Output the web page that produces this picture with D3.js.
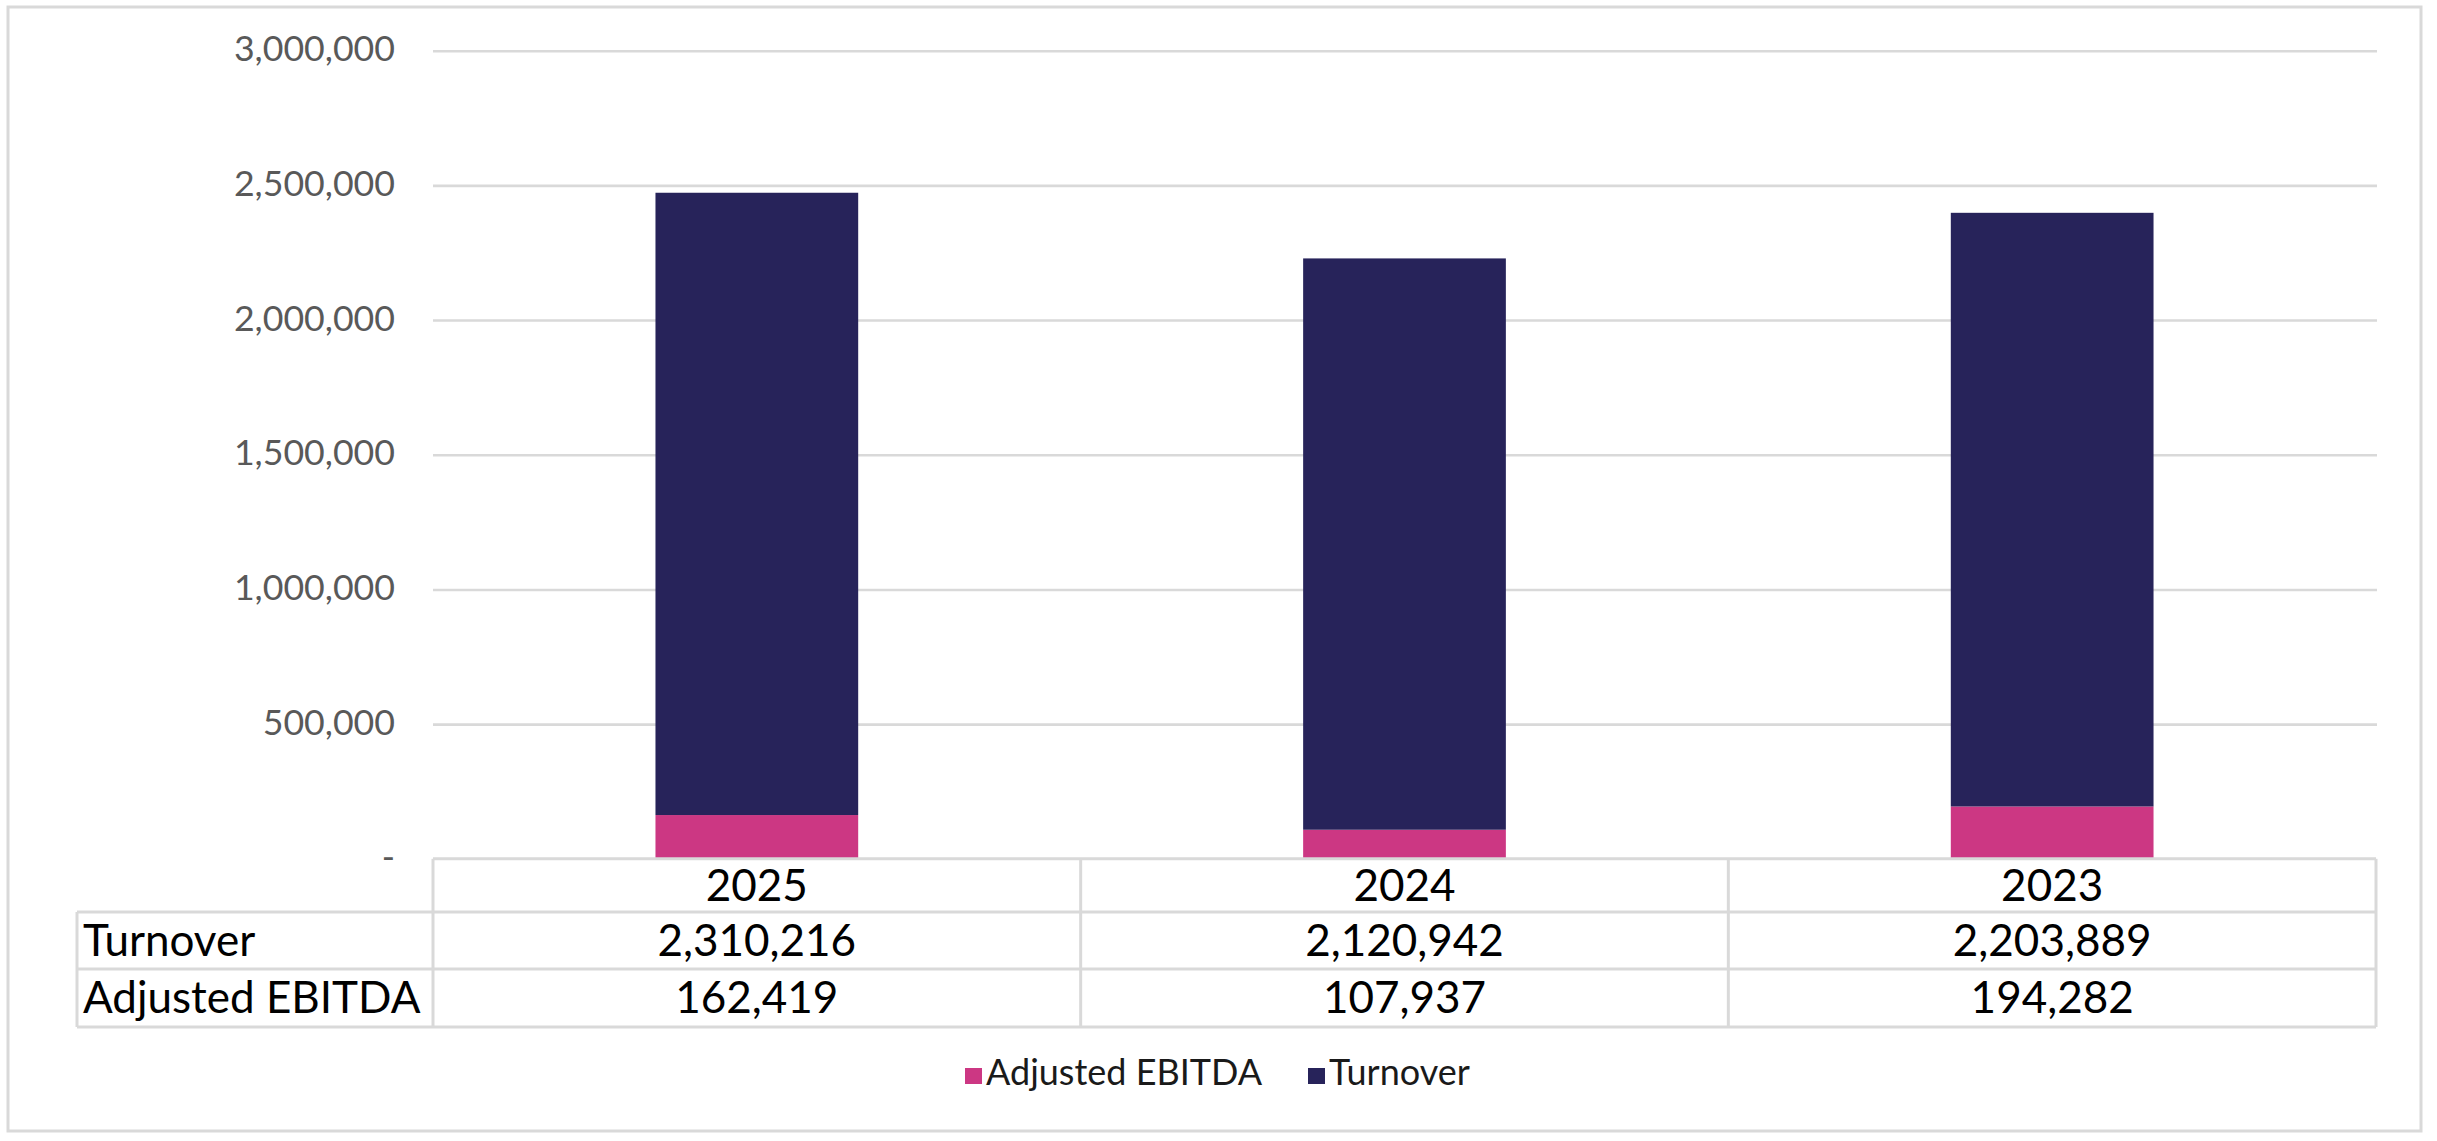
<!DOCTYPE html>
<html><head><meta charset="utf-8">
<script src="https://cdn.jsdelivr.net/npm/d3@7"></script>
<style>
html,body{margin:0;padding:0;background:#fff;}
svg{display:block;font-family:Lato, "Open Sans", sans-serif;}
</style></head>
<body>
<svg id="chart" width="2437" height="1141"></svg>
<script>
const years = ["2025", "2024", "2023"];
const turnover = [2310216, 2120942, 2203889];
const ebitda = [162419, 107937, 194282];
const yTicks = [0, 500000, 1000000, 1500000, 2000000, 2500000, 3000000];
const seriesNames = ["Adjusted EBITDA", "Turnover"];
const colors = {"Adjusted EBITDA": "#cc3783", "Turnover": "#27235a"};

const svg = d3.select("#chart");
const gridColor = "#d9d9d9";
const plotLeft = 433, plotRight = 2376, plotTop = 50.7, plotBottom = 858.8;

// outer border
svg.append("rect").attr("x", 8).attr("y", 7).attr("width", 2413).attr("height", 1124)
  .attr("fill", "#fff").attr("stroke", gridColor).attr("stroke-width", 3);

const x = d3.scaleBand().domain(years).range([plotLeft, plotRight]).padding(0);
const y = d3.scaleLinear().domain([0, 3000000]).range([plotBottom, plotTop]);

// y axis with gridlines
const yAxis = d3.axisLeft(y).tickValues(yTicks)
  .tickFormat(d => d === 0 ? "-" : d3.format(",")(d))
  .tickSize(0).tickPadding(0);
const gy = svg.append("g").attr("transform", `translate(${plotLeft},0)`).call(yAxis);
gy.select(".domain").remove();
gy.selectAll(".tick text").attr("x", -38).attr("dy", 10).attr("font-size", 35.7)
  .attr("fill", "#595959").attr("font-family", "Lato, sans-serif").attr("text-anchor", "end");
gy.selectAll(".tick").filter(d => d !== 0).append("line")
  .attr("x1", 0).attr("x2", plotRight - plotLeft + 1)
  .attr("stroke", gridColor).attr("stroke-width", 2.6);

// stacked bars
const stackData = years.map((yr, i) => ({year: yr, "Adjusted EBITDA": ebitda[i], "Turnover": turnover[i]}));
const stack = d3.stack().keys(seriesNames)(stackData);
const barW = x.bandwidth() * 0.313;
svg.append("g").selectAll("g").data(stack).join("g")
  .attr("fill", d => colors[d.key])
  .selectAll("rect").data(d => d).join("rect")
  .attr("x", d => x(d.data.year) + (x.bandwidth() - barW) / 2)
  .attr("width", barW)
  .attr("y", d => y(d[1]))
  .attr("height", d => y(d[0]) - y(d[1]));

// data table
const tableLeft = 77;
const rowsY = [plotBottom, 912, 969, 1027];
const tg = svg.append("g");
const line = (x1, y1, x2, y2) => tg.append("line").attr("x1", x1).attr("y1", y1).attr("x2", x2).attr("y2", y2)
  .attr("stroke", gridColor).attr("stroke-width", 3);
line(plotLeft, rowsY[0], plotRight, rowsY[0]);
line(tableLeft, rowsY[1], plotRight, rowsY[1]);
line(tableLeft, rowsY[2], plotRight, rowsY[2]);
line(tableLeft, rowsY[3], plotRight, rowsY[3]);
line(tableLeft, rowsY[1], tableLeft, rowsY[3]);
years.forEach(yr => line(x(yr), rowsY[0], x(yr), rowsY[3]));
line(plotRight, rowsY[0], plotRight, rowsY[3]);

const tfs = 44;
const baseOff = (top, bot) => (top + bot) / 2 + tfs * 0.35;
const txt = (tx, ty, s, anchor) => tg.append("text").attr("x", tx).attr("y", ty).attr("text-anchor", anchor)
  .attr("font-size", tfs).attr("fill", "#000").text(s);
years.forEach(yr => txt(x(yr) + x.bandwidth() / 2, baseOff(rowsY[0], rowsY[1]), yr, "middle"));
const tableRows = [["Turnover", turnover], ["Adjusted EBITDA", ebitda]];
tableRows.forEach(([name, vals], r) => {
  const ty = baseOff(rowsY[r + 1], rowsY[r + 2]);
  txt(tableLeft + 6, ty, name, "start");
  vals.forEach((v, i) => txt(x(years[i]) + x.bandwidth() / 2, ty, d3.format(",")(v), "middle"));
});

// legend
const lg = svg.append("g");
const legendItems = [{name: "Adjusted EBITDA", x: 965}, {name: "Turnover", x: 1308}];
legendItems.forEach(it => {
  lg.append("rect").attr("x", it.x).attr("y", 1068).attr("width", 17).attr("height", 16).attr("fill", colors[it.name]);
  lg.append("text").attr("x", it.x + 21).attr("y", 1085).attr("font-size", 36).attr("fill", "#1a1a1a").text(it.name);
});
</script>
</body></html>
